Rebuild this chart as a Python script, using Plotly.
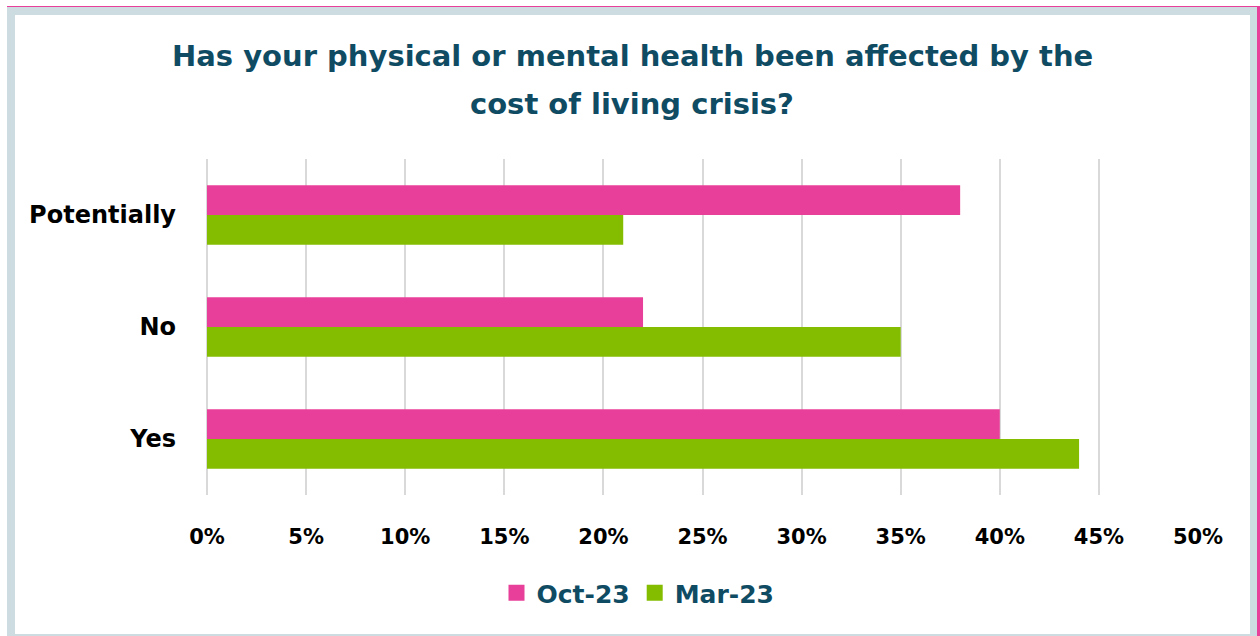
import plotly.graph_objects as go

categories = ["Yes", "No", "Potentially"]
oct23 = [0.40, 0.22, 0.38]
mar23 = [0.44, 0.35, 0.21]
series_names = ["Oct-23", "Mar-23"]
tick_vals = [0, 0.05, 0.10, 0.15, 0.20, 0.25, 0.30, 0.35, 0.40, 0.45, 0.50]
title_lines = ["Has your physical or mental health been affected by the", "cost of living crisis?"]

W, H = 1260, 636
L, R, T, B = 207, 1198, 159, 495
pw, ph = R - L, B - T

def px(x):
    return (x - L) / pw

def py(y):
    return (B - y) / ph

PINK = "#E8409A"
GREEN = "#84BD00"
TEAL = "#0F4C63"
FONT = "DejaVu Sans, Verdana, sans-serif"

fig = go.Figure()
fig.add_trace(go.Bar(y=categories, x=mar23, name=series_names[1], orientation="h",
                     marker=dict(color=GREEN, line=dict(width=0)), showlegend=False,
                     hoverinfo="skip"))
fig.add_trace(go.Bar(y=categories, x=oct23, name=series_names[0], orientation="h",
                     marker=dict(color=PINK, line=dict(width=0)), showlegend=False,
                     hoverinfo="skip"))
# legend entries with larger square swatches
for name, col in [(series_names[0], PINK), (series_names[1], GREEN)]:
    fig.add_trace(go.Scatter(x=[None], y=[None], mode="markers", name=name,
                             marker=dict(symbol="square", size=19, color=col)))

shapes = [
    dict(type="rect", xref="paper", yref="paper", x0=px(7), x1=px(1260), y0=py(6), y1=py(636),
         fillcolor=PINK, line=dict(width=0), layer="below"),
    dict(type="rect", xref="paper", yref="paper", x0=px(7), x1=px(1257), y0=py(7), y1=py(636),
         fillcolor="#CCDCE0", line=dict(width=0), layer="below"),
    dict(type="rect", xref="paper", yref="paper", x0=px(15), x1=px(1250), y0=py(15), y1=py(634),
         fillcolor="white", line=dict(width=0), layer="below"),
]

annotations = []
for line, yc in zip(title_lines, [56, 104]):
    annotations.append(dict(text=line, xref="paper", yref="paper", x=px(632), y=py(yc),
                            xanchor="center", yanchor="middle", showarrow=False,
                            font=dict(family=FONT, size=29, color=TEAL, weight="bold")))

fig.update_layout(
    width=W, height=H,
    margin=dict(l=L, r=W - R, t=T, b=H - B, pad=0),
    paper_bgcolor="white", plot_bgcolor="rgba(0,0,0,0)",
    barmode="group", bargap=0.47, bargroupgap=0,
    xaxis=dict(range=[0, 0.5], tickvals=tick_vals, tickformat=".0%",
               showgrid=True, gridcolor="#D9D9D9", gridwidth=2,
               zeroline=True, zerolinecolor="#D9D9D9", zerolinewidth=2,
               showline=False, ticks="", ticklabelstandoff=27,
               tickfont=dict(family=FONT, size=21, color="black", weight="bold"),
               fixedrange=True),
    yaxis=dict(showgrid=False, zeroline=False, showline=False, ticks="",
               ticklabelstandoff=30, categoryorder="array", categoryarray=categories,
               tickfont=dict(family=FONT, size=24, color="black", weight="bold")),
    legend=dict(orientation="h", x=px(638), xanchor="center", y=py(593), yanchor="middle",
                font=dict(family=FONT, size=25, color=TEAL, weight="bold"),
                itemwidth=30, bgcolor="rgba(0,0,0,0)"),
    shapes=shapes,
    annotations=annotations,
)

fig.write_html("out.html", config={"displayModeBar": False},
               post_script="document.body.style.margin='0';document.body.style.overflow='hidden';")
